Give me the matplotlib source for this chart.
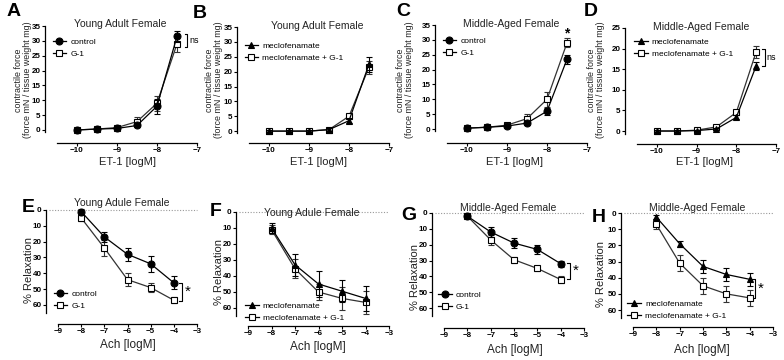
import numpy as np
import matplotlib
matplotlib.use("Agg")
import matplotlib.pyplot as plt
from matplotlib.lines import Line2D
from matplotlib.transforms import blended_transform_factory

plt.rcParams['font.family'] = ['Liberation Sans', 'DejaVu Sans']

# ---- data ----
et_x = [-10, -9.5, -9, -8.5, -8, -7.5]
ach_x = [-8, -7, -6, -5, -4]

A_ctrl = [0, 0.3, 0.5, 1.5, 8, 31.5]
A_ctrl_err = [0.3, 0.3, 0.3, 0.5, 2.5, 2.0]
A_g1 = [0, 0.3, 0.8, 2.8, 9, 29]
A_g1_err = [0.3, 0.3, 0.5, 1.5, 2.5, 2.8]

B_mec = [0, 0, 0, 0.5, 3.5, 22.5]
B_mec_err = [0.3, 0.3, 0.3, 0.4, 0.8, 2.5]
B_mg1 = [0, 0, 0, 0.5, 5, 21.5]
B_mg1_err = [0.3, 0.3, 0.3, 0.4, 0.8, 2.2]

C_ctrl = [0.3, 0.6, 1.0, 2.0, 6, 23.5]
C_ctrl_err = [0.2, 0.2, 0.3, 0.6, 1.2, 1.5]
C_g1 = [0.3, 0.6, 1.3, 3.5, 10, 29]
C_g1_err = [0.2, 0.2, 0.4, 1.5, 2.5, 1.5]

D_mec = [0, 0, 0.1, 0.5, 3.3, 15.8]
D_mec_err = [0.2, 0.2, 0.2, 0.3, 0.5, 1.0]
D_mg1 = [0, 0, 0.2, 1.0, 4.5, 19.2]
D_mg1_err = [0.2, 0.2, 0.3, 0.3, 0.5, 1.5]

E_ctrl = [1, 17, 28, 34, 46]
E_ctrl_err = [1.5, 3, 4, 5, 4]
E_g1 = [5, 24, 44, 49, 57]
E_g1_err = [2, 5, 4, 3, 2]

F_mec = [10, 33, 45, 49.5, 54]
F_mec_err = [3, 7, 8, 7, 8]
F_mg1 = [11, 35.5, 50, 54, 56.5]
F_mg1_err = [3, 6, 5, 7, 7]

G_ctrl = [2, 12, 19, 23, 32]
G_ctrl_err = [1, 3, 3, 3, 2]
G_g1 = [2, 17, 29.5, 35, 42]
G_g1_err = [1, 3, 2, 1.5, 2.5]

H_mec = [2.5, 19, 33, 38, 41]
H_mec_err = [1, 2, 4, 4, 4]
H_mg1 = [7, 31, 45, 50, 52.5]
H_mg1_err = [3, 5, 5, 5, 5]

W, H = 784, 360
fig = plt.figure(figsize=(W / 100, H / 100), dpi=100)


def fx(px):
    return px / W


def fy(py):
    return 1 - py / H


def make_ax(l, r, t, b):
    return fig.add_axes([fx(l), fy(b), (r - l) / W, (b - t) / H])


def style(ax):
    for s in ['top', 'right']:
        ax.spines[s].set_visible(False)
    ax.spines['left'].set_position(('outward', 9))
    ax.spines['left'].set_linewidth(0.9)
    ax.spines['bottom'].set_linewidth(0.9)
    ax.tick_params(length=2, width=0.8, labelsize=5.8, pad=0.8)
    for lab in ax.get_xticklabels() + ax.get_yticklabels():
        lab.set_fontweight('bold')


def series(ax, x, y, e, marker, filled, zorder):
    fc = 'black' if filled else 'white'
    col = 'black' if filled else '#333333'
    ax.errorbar(x, y, yerr=e, color=col, lw=0.9, elinewidth=0.8, capsize=2,
                capthick=0.8, marker=marker, ms=5, mfc=fc, mec='black',
                mew=0.8, zorder=zorder, clip_on=False)


def legend(ax, labels, markers, anchor):
    hs = []
    for lab, (m, filled) in zip(labels, markers):
        hs.append(Line2D([], [], color='black', lw=0.9, marker=m, ms=5,
                         mfc='black' if filled else 'white', mec='black',
                         mew=0.8, label=lab))
    ax.legend(handles=hs, loc='upper left', bbox_to_anchor=anchor,
              frameon=False, fontsize=6, handlelength=1.6, handletextpad=0.5,
              borderpad=0, borderaxespad=0, labelspacing=0.55)


def bracket(ax, x, y0, y1, text, size, dx):
    w = 0.06 if ax.get_xlim()[1] - ax.get_xlim()[0] < 4 else 0.12
    ax.plot([x - w, x, x, x - w], [y0, y0, y1, y1], color='black', lw=0.8,
            clip_on=False)
    ax.text(x + dx, (y0 + y1) / 2, text, fontsize=size, va='center',
            ha='left')


# ---- top row: ET-1 ----
top_axes = [
    (57, 197, 21.6, 143, (-4.4, 36.5), 35),
    (249, 389, 22.6, 143, (-4.0, 36.5), 35),
    (447, 587, 20.6, 143, (-4.7, 36.5), 35),
    (637, 776, 21.8, 144, (-3.15, 26.5), 25),
]
top_data = [
    (A_ctrl, A_ctrl_err, A_g1, A_g1_err, ['control', 'G-1'], 'o'),
    (B_mec, B_mec_err, B_mg1, B_mg1_err,
     ['meclofenamate', 'meclofenamate + G-1'], '^'),
    (C_ctrl, C_ctrl_err, C_g1, C_g1_err, ['control', 'G-1'], 'o'),
    (D_mec, D_mec_err, D_mg1, D_mg1_err,
     ['meclofenamate', 'meclofenamate + G-1'], '^'),
]
top_titles = ['Young Adult Female', 'Young Adult Female',
              'Middle-Aged Female', 'Middle-Aged Female']
top_title_pos = [(0.45, 0.98), (0.49, 0.97), (0.46, 0.97), (0.46, 0.957)]
top_leg = [(-0.03, 0.865), (-0.03, 0.84), (-0.03, 0.866), (-0.02, 0.867)]
top_letters = [('A', 14, 12), ('B', 200, 13), ('C', 403, 12), ('D', 591, 11)]
top_ylab_x = [23, 214, 405, 596]
top_xlab_x = [128, 318, 515, 705]

ax_top = []
for i, (l, r, t, b, yl, ymax) in enumerate(top_axes):
    ax = make_ax(l, r, t, b)
    y1, e1, y2, e2, labs, m1 = top_data[i]
    series(ax, et_x, y2, e2, 's', False, 3)
    series(ax, et_x, y1, e1, m1, True, 4)
    ax.set_xlim(-10.5, -7)
    ax.set_ylim(*yl)
    ax.set_xticks([-10, -9, -8, -7])
    ax.set_yticks(np.arange(0, ymax + 1, 5))
    ax.spines['left'].set_bounds(-0.8, ymax)
    style(ax)
    ax.text(*top_title_pos[i], top_titles[i], transform=ax.transAxes,
            ha='center', va='center', fontsize=7.5, color='#222222')
    legend(ax, labs, [(m1, True), ('s', False)], top_leg[i])
    let, lx, ly = top_letters[i]
    fig.text(fx(lx), fy(ly), let, fontsize=14, fontweight='bold',
             ha='center', va='center')
    fig.text(fx(top_ylab_x[i]), fy(80),
             'contractile force\n(force mN / tissue weight mg)',
             rotation=90, ha='center', va='center', fontsize=6.4,
             linespacing=1.05, color='#222222')
    fig.text(fx(top_xlab_x[i]), fy(162), 'ET-1 [logM]', ha='center',
             va='center', fontsize=8, color='#222222')
    ax_top.append(ax)

bracket(ax_top[0], -7.25, 32.3, 28, 'ns', 6.5, 0.05)
ax_top[2].text(-7.5, 32.3, '*', fontsize=10, fontweight='bold',
               ha='center', va='center')
bracket(ax_top[3], -7.28, 19.9, 15.8, 'ns', 6.5, 0.05)

# ---- bottom row: Ach ----
bot_axes = [
    (58, 197, 206.8, 324, (72, -2)),
    (248, 389, 208.8, 326, (71.25, -2)),
    (444, 584, 209.8, 328, (72.6, -2)),
    (633, 773, 209.8, 327, (70.5, -2)),
]
bot_data = [
    (E_ctrl, E_ctrl_err, E_g1, E_g1_err, ['control', 'G-1'], 'o'),
    (F_mec, F_mec_err, F_mg1, F_mg1_err,
     ['meclofenamate', 'meclofenamate + G-1'], '^'),
    (G_ctrl, G_ctrl_err, G_g1, G_g1_err, ['control', 'G-1'], 'o'),
    (H_mec, H_mec_err, H_mg1, H_mg1_err,
     ['meclofenamate', 'meclofenamate + G-1'], '^'),
]
bot_titles = ['Young Adule Female', 'Young Adule Female',
              'Middle-Aged Female', 'Middle-Aged Female']
bot_title_pos = [(0.46, 1.03), (0.45, 0.964), (0.46, 1.015), (0.46, 1.015)]
bot_leg = [(-0.03, 0.29), (-0.02, 0.205), (-0.04, 0.313), (-0.04, 0.23)]
bot_letters = [('E', 28, 208), ('F', 216, 211), ('G', 409, 215), ('H', 599, 217)]
bot_ylab = [(29, 270), (219, 272), (415, 277), (601, 274)]
bot_xlab = [(128, 345), (318, 347), (515, 350), (702, 350)]

ax_bot = []
for i, (l, r, t, b, yl) in enumerate(bot_axes):
    ax = make_ax(l, r, t, b)
    y1, e1, y2, e2, labs, m1 = bot_data[i]
    tr = blended_transform_factory(ax.transAxes, ax.transData)
    ax.plot([-0.065, 1.0], [0, 0], transform=tr, color='#999999', lw=0.8,
            ls=(0, (1, 1.5)), clip_on=False, zorder=1)
    series(ax, ach_x, y2, e2, 's', False, 3)
    series(ax, ach_x, y1, e1, m1, True, 4)
    ax.set_xlim(-9, -3)
    ax.set_ylim(*yl)
    ax.set_xticks(np.arange(-9, -2, 1))
    ax.set_yticks(np.arange(0, 61, 10))
    ax.spines['left'].set_bounds(0, 65)
    style(ax)
    ax.text(*bot_title_pos[i], bot_titles[i], transform=ax.transAxes,
            ha='center', va='center', fontsize=7.5, color='#222222')
    legend(ax, labs, [(m1, True), ('s', False)], bot_leg[i])
    let, lx, ly = bot_letters[i]
    fig.text(fx(lx), fy(ly), let, fontsize=14, fontweight='bold',
             ha='center', va='center')
    fig.text(fx(bot_ylab[i][0]), fy(bot_ylab[i][1]), '% Relaxation',
             rotation=90, ha='center', va='center', fontsize=8,
             color='#222222')
    fig.text(fx(bot_xlab[i][0]), fy(bot_xlab[i][1]), 'Ach [logM]',
             ha='center', va='center', fontsize=8.5, color='#222222')
    ax_bot.append(ax)

bracket(ax_bot[0], -3.65, 46, 57.3, '*', 11, 0.12)
bracket(ax_bot[2], -3.6, 31.6, 41.8, '*', 11, 0.12)
bracket(ax_bot[3], -3.77, 41, 52.4, '*', 11, 0.12)

fig.savefig('out.png', dpi=100)
